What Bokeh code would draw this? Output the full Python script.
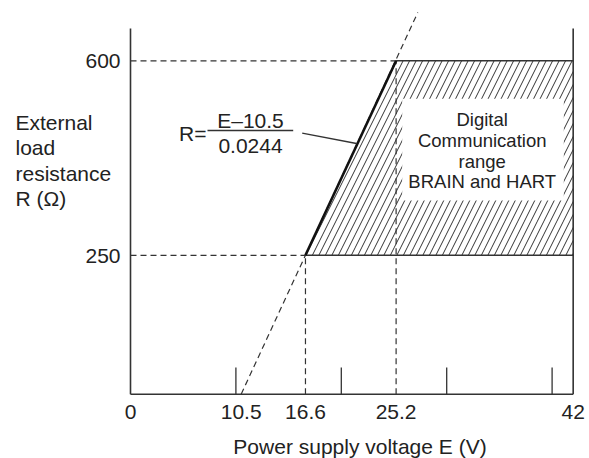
from bokeh.plotting import figure
from bokeh.models import Range1d
from bokeh.embed import file_html
from bokeh.resources import INLINE
from bokeh.core.properties import value

# ---------------- data ----------------
x_tick_values = [0, 10.5, 16.6, 25.2, 42]
x_tick_labels = ["0", "10.5", "16.6", "25.2", "42"]
x_minor_ticks = [10, 20, 30, 40]
y_tick_values = [250, 600]
y_tick_labels = ["250", "600"]
E_max = 42          # end of the voltage axis (V)
R_axis_top = 658    # top of drawn axis lines (ohm)
region_E = [16.6, 25.2, 42, 42]
region_R = [250, 600, 600, 250]
line_E = [16.6, 25.2]
line_R = [250, 600]
ext_E = [10.5, 27.26]
ext_R = [0, 687]
y_title_lines = ["External", "load", "resistance", "R (\u03a9)"]
box_lines = ["Digital", "Communication", "range", "BRAIN and HART"]
x_title = "Power supply voltage E (V)"
formula_num = "E\u201310.5"
formula_den = "0.0244"
formula_lhs = "R="

# ---------------- layout helpers (image pixel -> data) ----------------
W, H = 589, 458
X0, SX = 130.0, 10.54
Y0, SY = 393.7, 0.5557
TDY = -7  # baseline correction for text rendering (px)
def X(px):
    return (px - X0) / SX
def Y(py):
    return (Y0 - py) / SY

FONT = value("Liberation Sans")
INK = "#333333"

p = figure(width=W, height=H,
           x_range=Range1d(X(0), X(W)), y_range=Range1d(Y(H), Y(0)),
           x_axis_type=None, y_axis_type=None,
           toolbar_location=None, output_backend="svg",
           min_border=0, min_border_left=0, min_border_right=0,
           min_border_top=0, min_border_bottom=0)
p.grid.visible = False
p.outline_line_color = None
p.background_fill_color = "white"
p.border_fill_color = "white"

# hatched communication region
p.patch(region_E, region_R, fill_color=None, line_color=None,
        hatch_pattern="/", hatch_scale=13, hatch_weight=1, hatch_color=INK)

# white box behind the region label
p.quad(left=[X(401.7)], right=[X(563.3)], top=[Y(98.3)], bottom=[Y(200)],
       fill_color="white", line_color=None)

# dashed guide lines
dash = dict(line_color=INK, line_width=1.2, line_dash="6 4")
p.segment(x0=[0, 0, line_E[0], line_E[1]],
          y0=[line_R[1], line_R[0], 0, 0],
          x1=[line_E[1], line_E[0], line_E[0], line_E[1]],
          y1=[line_R[1], line_R[0], line_R[0], line_R[1]], **dash)
p.line(ext_E, ext_R, **dash)

# region borders (solid)
p.segment(x0=[region_E[1], region_E[0]], y0=[region_R[1], region_R[0]],
          x1=[region_E[2], region_E[3]], y1=[region_R[2], region_R[3]],
          line_color=INK, line_width=1.5)

# axis frame lines
p.segment(x0=[0, 0, E_max], y0=[0, 0, 0], x1=[0, E_max, E_max],
          y1=[R_axis_top, 0, R_axis_top], line_color=INK, line_width=1.6)
# minor ticks (inside, upward)
tick_len = 26.6 / SY
p.segment(x0=x_minor_ticks, y0=[0] * len(x_minor_ticks),
          x1=x_minor_ticks, y1=[tick_len] * len(x_minor_ticks),
          line_color=INK, line_width=1.3)

# thick limit line
p.line(line_E, line_R, line_color="#111111", line_width=2.6)

# formula bar and leader
p.segment(x0=[X(207)], y0=[Y(130)], x1=[X(292.7)], y1=[Y(130)],
          line_color=INK, line_width=1.3)
p.segment(x0=[X(301.7)], y0=[Y(132.7)], x1=[X(356)], y1=[Y(143)],
          line_color=INK, line_width=1.3)

txt = dict(text_font=FONT, text_color="#222222", text_baseline="alphabetic")

# x tick labels
p.text(x=x_tick_values, y=[0] * len(x_tick_values), text=x_tick_labels,
       text_align="center", y_offset=24.5 + TDY,
       text_font_size="21px", **txt)
# y tick labels
p.text(x=[0] * len(y_tick_values), y=y_tick_values, text=y_tick_labels,
       text_align="right", x_offset=-10, y_offset=7.4 + TDY,
       text_font_size="21px", **txt)

# x title
p.text(x=[X(359.5)], y=[Y(452.7)], text=[x_title], text_align="center",
       y_offset=TDY, text_font_size="21px", **txt)

# y title (multi-line, left aligned)
p.text(x=[X(15)] * len(y_title_lines),
       y=[Y(129 + 25.4 * i) for i in range(len(y_title_lines))],
       text=y_title_lines, text_align="left", y_offset=TDY,
       text_font_size="21px", **txt)

# formula
p.text(x=[X(250)], y=[Y(127)], text=[formula_num], text_align="center",
       y_offset=TDY, text_font_size="21px", **txt)
p.text(x=[X(250)], y=[Y(152)], text=[formula_den], text_align="center",
       y_offset=TDY, text_font_size="21px", **txt)
p.text(x=[X(206)], y=[Y(140)], text=[formula_lhs], text_align="right",
       y_offset=TDY, text_font_size="21px", **txt)

# region label
p.text(x=[X(481.7)] * len(box_lines),
       y=[Y(125.7 + 20.9 * i) for i in range(len(box_lines))],
       text=box_lines, text_align="center", y_offset=TDY,
       text_font_size="18.5px", **txt)

open("out.html", "w").write(file_html(p, INLINE))
